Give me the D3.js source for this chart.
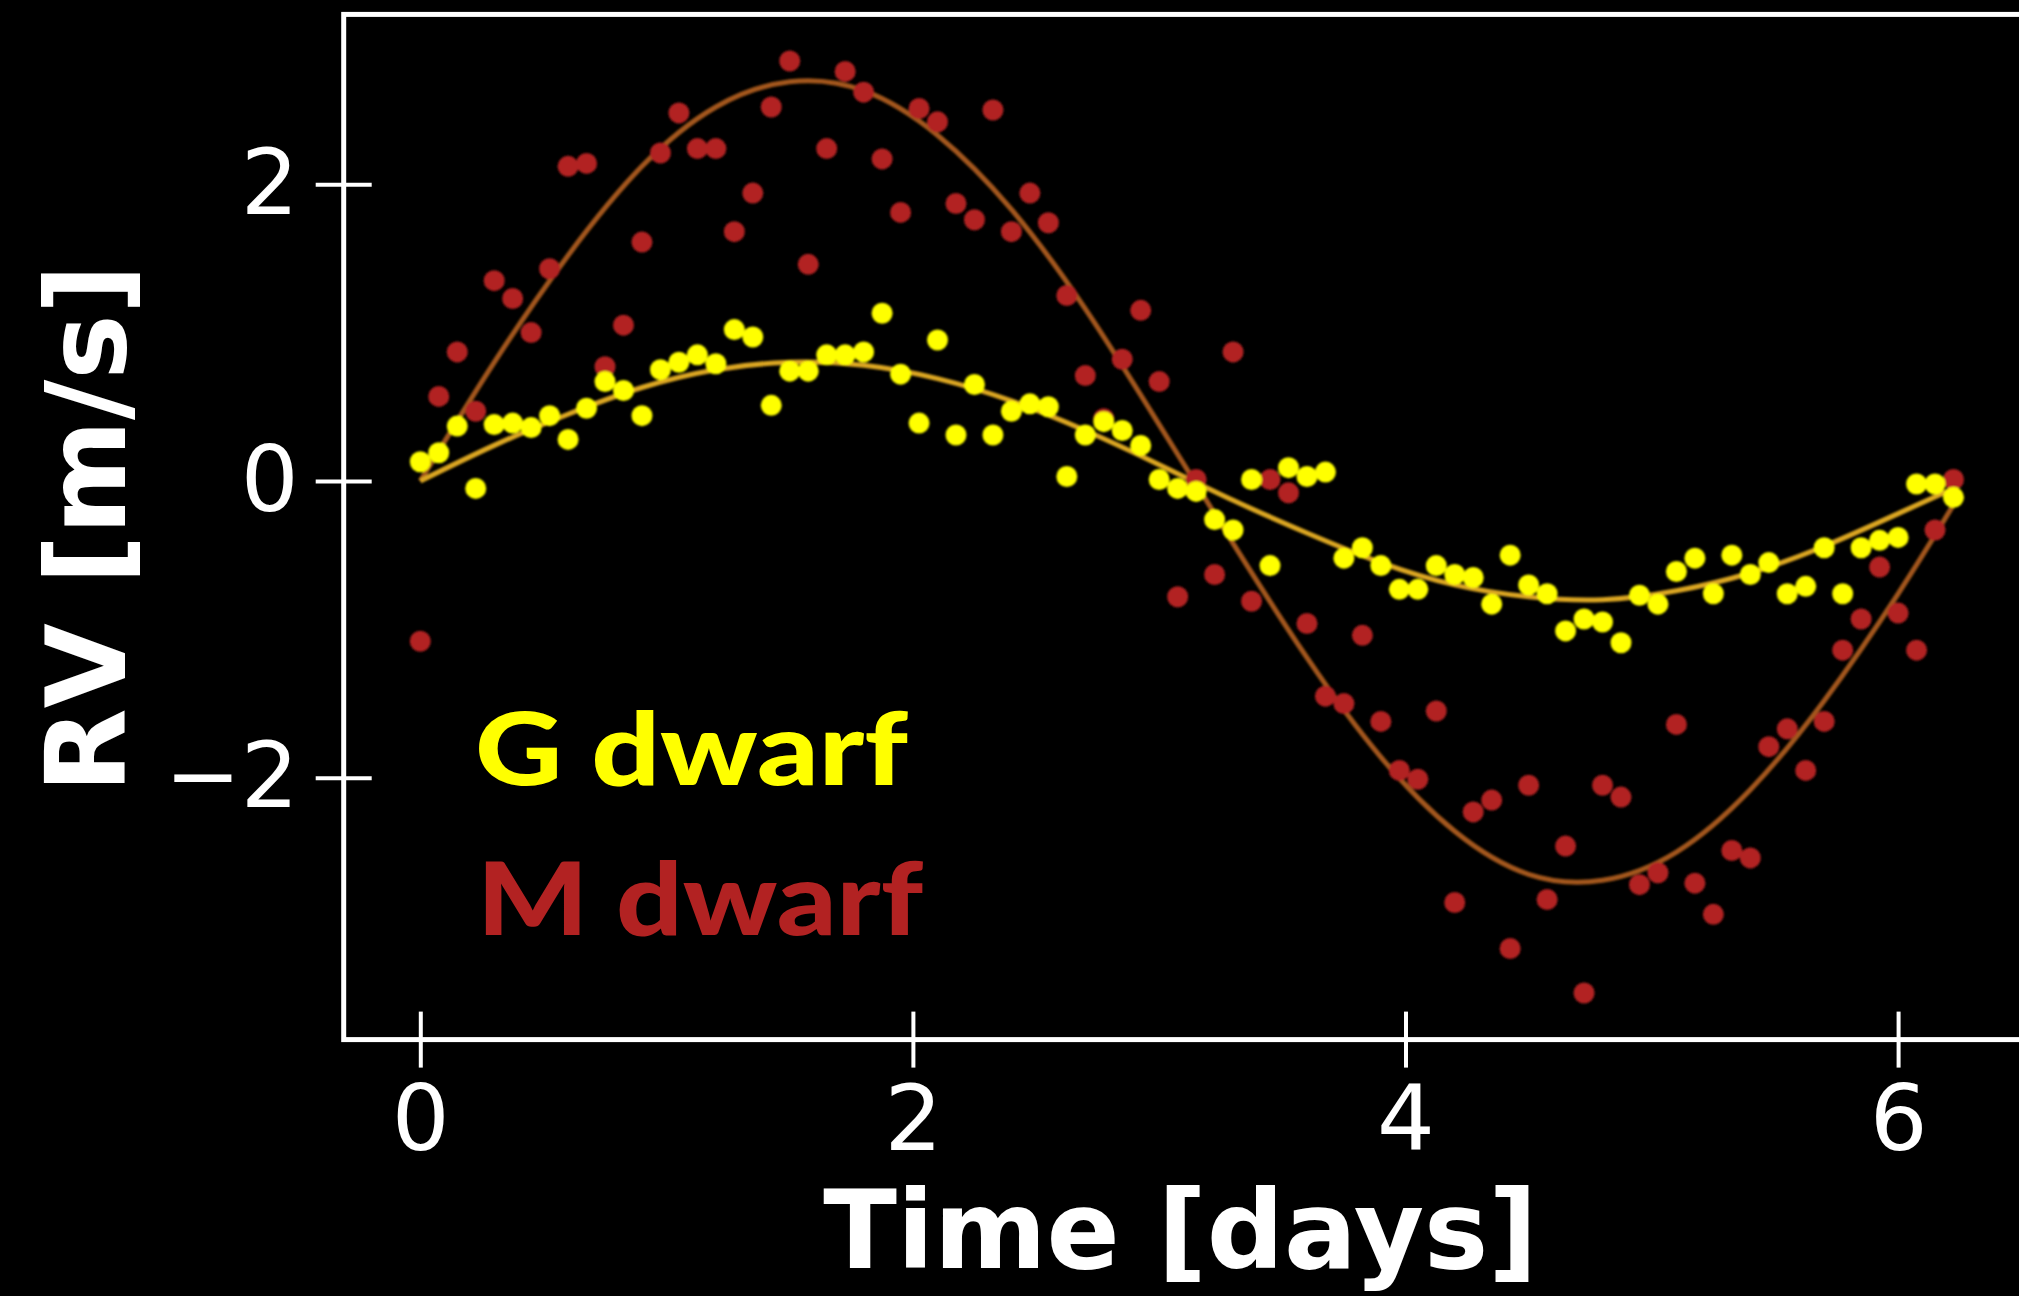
<!DOCTYPE html>
<html>
<head>
<meta charset="utf-8">
<script src="https://cdn.jsdelivr.net/npm/d3@7/dist/d3.min.js"></script>
<style>
  html, body { margin: 0; padding: 0; background: #000; }
  svg { display: block; }
</style>
</head>
<body>
<svg id="chart" width="2019" height="1296"></svg>
<script>
// Observation times [days], shared by both stars
const times = [
  0.000, 0.075, 0.150, 0.225, 0.300, 0.375, 0.450, 0.525, 0.600, 0.675,
  0.750, 0.825, 0.900, 0.975, 1.050, 1.125, 1.200, 1.275, 1.350, 1.425,
  1.500, 1.575, 1.650, 1.725, 1.800, 1.875, 1.950, 2.025, 2.100, 2.175,
  2.250, 2.325, 2.400, 2.475, 2.550, 2.625, 2.700, 2.775, 2.850, 2.925,
  3.000, 3.075, 3.150, 3.225, 3.300, 3.375, 3.450, 3.525, 3.600, 3.675,
  3.750, 3.825, 3.900, 3.975, 4.050, 4.125, 4.200, 4.275, 4.350, 4.425,
  4.500, 4.575, 4.650, 4.725, 4.800, 4.875, 4.950, 5.025, 5.100, 5.175,
  5.250, 5.325, 5.400, 5.475, 5.550, 5.625, 5.700, 5.775, 5.850, 5.925,
  6.000, 6.075, 6.150, 6.225
];

// Measured radial velocities [m/s]
const gDwarfRV = [
  0.13, 0.19, 0.37, -0.05, 0.38, 0.39, 0.36, 0.44, 0.28, 0.49,
  0.67, 0.61, 0.44, 0.75, 0.80, 0.85, 0.79, 1.02, 0.97, 0.51,
  0.74, 0.74, 0.85, 0.85, 0.87, 1.13, 0.72, 0.39, 0.95, 0.31,
  0.65, 0.31, 0.47, 0.52, 0.50, 0.03, 0.31, 0.40, 0.34, 0.24,
  0.01, -0.05, -0.07, -0.26, -0.33, 0.01, -0.57, 0.09, 0.03, 0.06,
  -0.52, -0.45, -0.57, -0.73, -0.73, -0.57, -0.63, -0.65, -0.83, -0.50,
  -0.70, -0.76, -1.01, -0.93, -0.95, -1.09, -0.77, -0.83, -0.61, -0.52,
  -0.76, -0.50, -0.63, -0.55, -0.76, -0.71, -0.45, -0.76, -0.45, -0.40,
  -0.38, -0.02, -0.02, -0.11
];

const mDwarfRV = [
  -1.08, 0.57, 0.87, 0.47, 1.35, 1.23, 1.00, 1.43, 2.12, 2.14,
  0.77, 1.05, 1.61, 2.21, 2.48, 2.24, 2.24, 1.68, 1.94, 2.52,
  2.83, 1.46, 2.24, 2.76, 2.62, 2.17, 1.81, 2.51, 2.42, 1.87,
  1.76, 2.50, 1.68, 1.94, 1.74, 1.25, 0.71, 0.42, 0.82, 1.15,
  0.67, -0.78, 0.01, -0.63, 0.87, -0.81, 0.01, -0.08, -0.96, -1.45,
  -1.50, -1.04, -1.62, -1.95, -2.01, -1.55, -2.84, -2.23, -2.15, -3.15,
  -2.05, -2.82, -2.46, -3.45, -2.05, -2.13, -2.72, -2.64, -1.64, -2.71,
  -2.92, -2.49, -2.54, -1.79, -1.67, -1.95, -1.62, -1.14, -0.93, -0.58,
  -0.89, -1.14, -0.33, 0.01
];

// Fitted orbit curves, sampled along the time axis
const fitTimes = [0, 0.3, 0.6, 0.9, 1.2, 1.5, 1.8, 2.1, 2.4, 2.7, 3.0,
                  3.3, 3.6, 3.9, 4.2, 4.5, 4.8, 5.1, 5.4, 5.7, 6.0, 6.225];
const gDwarfFit = [0, 0.24, 0.45, 0.63, 0.75, 0.80, 0.78, 0.69, 0.54, 0.34, 0.11,
                   -0.13, -0.35, -0.55, -0.70, -0.78, -0.80, -0.74, -0.62, -0.44, -0.22, -0.05];
const mDwarfFit = [0, 0.80, 1.52, 2.12, 2.52, 2.69, 2.63, 2.33, 1.83, 1.16, 0.38,
                   -0.42, -1.19, -1.86, -2.36, -2.65, -2.69, -2.50, -2.08, -1.48, -0.76, -0.16];

const xTicks = [0, 2, 4, 6];
const yTicks = [-2, 0, 2];
const legendLabels = ["G dwarf", "M dwarf"];

const colors = {
  g: "#ffff00",
  m: "#b22222",
  gFit: "#daa520",
  mFit: "#a3561c",
  fg: "#ffffff"
};

const svg = d3.select("#chart");
svg.append("rect").attr("width", 2019).attr("height", 1296).attr("fill", "#000");

const plot = { left: 343.7, right: 2030.1, top: 14.4, bottom: 1039.6 };

const x = d3.scaleLinear().domain([-0.311, 6.536]).range([plot.left, plot.right]);
const y = d3.scaleLinear().domain([-3.764, 3.144]).range([plot.bottom, plot.top]);

const defs = svg.append("defs");
defs.append("clipPath").attr("id", "plot-clip")
  .append("rect")
  .attr("x", plot.left).attr("y", plot.top)
  .attr("width", plot.right - plot.left).attr("height", plot.bottom - plot.top);
defs.append("filter").attr("id", "soft")
  .append("feGaussianBlur").attr("stdDeviation", 1.1);

const layer = svg.append("g").attr("clip-path", "url(#plot-clip)");
const marks = layer.append("g").attr("filter", "url(#soft)");

// Fit curves underneath the measurements
const line = d3.line()
  .x(d => x(d[0]))
  .y(d => y(d[1]))
  .curve(d3.curveNatural);

marks.append("path")
  .datum(fitTimes.map((t, i) => [t, mDwarfFit[i]]))
  .attr("d", line)
  .attr("fill", "none")
  .attr("stroke", colors.mFit)
  .attr("stroke-width", 5);

marks.append("path")
  .datum(fitTimes.map((t, i) => [t, gDwarfFit[i]]))
  .attr("d", line)
  .attr("fill", "none")
  .attr("stroke", colors.gFit)
  .attr("stroke-width", 5);

// Measurements: M dwarf below, G dwarf on top
marks.append("g").selectAll("circle")
  .data(times.map((t, i) => [t, mDwarfRV[i]]))
  .join("circle")
  .attr("cx", d => x(d[0]))
  .attr("cy", d => y(d[1]))
  .attr("r", 10.5)
  .attr("fill", colors.m);

marks.append("g").selectAll("circle")
  .data(times.map((t, i) => [t, gDwarfRV[i]]))
  .join("circle")
  .attr("cx", d => x(d[0]))
  .attr("cy", d => y(d[1]))
  .attr("r", 10.5)
  .attr("fill", colors.g);

// Frame
svg.append("rect")
  .attr("x", plot.left).attr("y", plot.top)
  .attr("width", plot.right - plot.left).attr("height", plot.bottom - plot.top)
  .attr("fill", "none")
  .attr("stroke", colors.fg)
  .attr("stroke-width", 5);

// Axes with ticks straddling the frame
const tickHalf = 28;
const tickFont = "'DejaVu Sans', sans-serif";

const xAxis = svg.append("g")
  .attr("transform", `translate(0,${plot.bottom - tickHalf})`)
  .call(d3.axisBottom(x).tickValues(xTicks).tickSize(tickHalf * 2).tickPadding(18)
        .tickFormat(d3.format("d")));
xAxis.select(".domain").remove();
xAxis.selectAll(".tick line").attr("stroke", colors.fg).attr("stroke-width", 4);
xAxis.selectAll(".tick text").attr("fill", colors.fg)
  .style("font-family", tickFont).style("font-size", "91px");

const yAxis = svg.append("g")
  .attr("transform", `translate(${plot.left + tickHalf},0)`)
  .call(d3.axisLeft(y).tickValues(yTicks).tickSize(tickHalf * 2).tickPadding(17)
        .tickFormat(d3.format("d")));
yAxis.select(".domain").remove();
yAxis.selectAll(".tick line").attr("stroke", colors.fg).attr("stroke-width", 4);
yAxis.selectAll(".tick text").attr("fill", colors.fg)
  .style("font-family", tickFont).style("font-size", "91px");

// Axis titles
svg.append("text")
  .attr("x", 1180.5).attr("y", 1268)
  .attr("text-anchor", "middle")
  .attr("fill", colors.fg)
  .style("font-family", tickFont).style("font-weight", "bold").style("font-size", "108px")
  .text("Time [days]");

svg.append("text")
  .attr("transform", "translate(125,528.5) rotate(-90)")
  .attr("text-anchor", "middle")
  .attr("fill", colors.fg)
  .style("font-family", tickFont).style("font-weight", "bold").style("font-size", "110px")
  .text("RV [m/s]");

// Series labels
const legendPos = [
  { x: 475, y: 785, len: 433, color: colors.g },
  { x: 477, y: 935, len: 446, color: colors.m }
];
svg.append("g").selectAll("text")
  .data(legendLabels)
  .join("text")
  .attr("x", (d, i) => legendPos[i].x)
  .attr("y", (d, i) => legendPos[i].y)
  .attr("textLength", (d, i) => legendPos[i].len)
  .attr("lengthAdjust", "spacingAndGlyphs")
  .attr("fill", (d, i) => legendPos[i].color)
  .style("font-family", "Lato, 'Open Sans', sans-serif")
  .style("font-weight", 900)
  .style("font-size", "101px")
  .text(d => d);
</script>
</body>
</html>
